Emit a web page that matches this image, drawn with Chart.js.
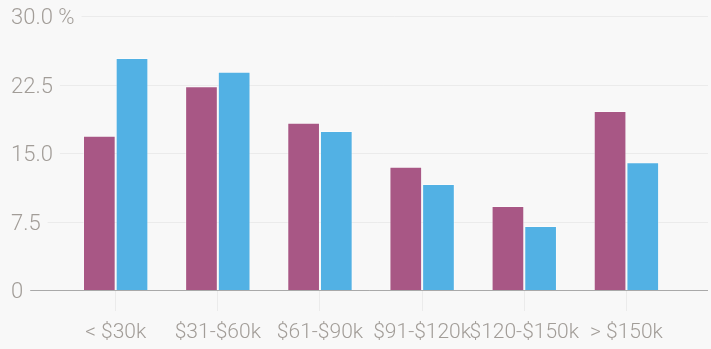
<!DOCTYPE html>
<html>
<head>
<meta charset="utf-8">
<script src="https://cdn.jsdelivr.net/npm/chart.js@4"></script>
<style>
    html, body { margin: 0; padding: 0; background: #f8f8f8; }
    #wrap { position: relative; width: 711px; height: 349px; }
</style>
</head>
<body>
<div id="wrap"><canvas id="incomeChart"></canvas></div>
<script>
const incomeBrackets = ['< $30k', '$31-$60k', '$61-$90k', '$91-$120k', '$120-$150k', '> $150k'];
const groupA = [16.9, 22.3, 18.3, 13.5, 9.2, 19.6];
const groupB = [25.4, 23.9, 17.4, 11.6, 7.0, 14.0];
const yTickValues = [0, 7.5, 15, 22.5, 30];
const yTickLabels = ['0', '7.5', '15.0', '22.5', '30.0 %'];

const labelColor = '#a29d98';
const fontFamily = 'Roboto, "Noto Sans", sans-serif';
const yFont = { family: fontFamily, size: 22, weight: 300 };
const xFont = { family: fontFamily, size: 21, weight: 300 };
const labelLeft = 11;
const lineRight = 708;

// y labels sit at the far left; each rule starts just after its label
const gridPlugin = {
    id: 'labelGrid',
    beforeDatasetsDraw(chart) {
        const ctx = chart.ctx;
        const y = chart.scales.y;
        ctx.save();
        ctx.font = `${yFont.weight} ${yFont.size}px ${yFont.family}`;
        ctx.fillStyle = labelColor;
        ctx.textAlign = 'left';
        ctx.textBaseline = 'alphabetic';
        ctx.strokeStyle = '#ebebeb';
        ctx.lineWidth = 1;
        y.ticks.forEach((t, i) => {
            const label = yTickLabels[yTickValues.indexOf(t.value)];
            const py = Math.round(y.getPixelForValue(t.value)) + 0.5;
            ctx.fillText(label, labelLeft, py + yFont.size * 0.355);
            if (t.value === 0) return;
            const w = ctx.measureText(label).width;
            ctx.beginPath();
            ctx.moveTo(labelLeft + w + 7, py);
            ctx.lineTo(lineRight, py);
            ctx.stroke();
        });
        ctx.restore();
    },
    afterDatasetsDraw(chart) {
        const ctx = chart.ctx;
        const y = chart.scales.y;
        ctx.save();
        ctx.font = `${yFont.weight} ${yFont.size}px ${yFont.family}`;
        const w = ctx.measureText(yTickLabels[0]).width;
        const py = Math.round(y.getPixelForValue(0)) + 0.5;
        ctx.strokeStyle = '#a9a9a9';
        ctx.lineWidth = 1;
        ctx.beginPath();
        ctx.moveTo(labelLeft + w + 7, py);
        ctx.lineTo(lineRight, py);
        ctx.stroke();
        ctx.restore();
    }
};

new Chart(document.getElementById('incomeChart'), {
    type: 'bar',
    data: {
        labels: incomeBrackets,
        datasets: [{
            label: 'Group A',
            data: groupA,
            backgroundColor: '#a85785',
            borderColor: 'rgba(255,255,255,0.4)',
            borderWidth: 1
        }, {
            label: 'Group B',
            data: groupB,
            backgroundColor: '#52b1e4',
            borderColor: 'rgba(255,255,255,0.4)',
            borderWidth: 1
        }]
    },
    options: {
        responsive: true,
        maintainAspectRatio: false,
        animation: false,
        devicePixelRatio: 1,
        categoryPercentage: 0.64,
        barPercentage: 1.0,
        layout: { padding: { left: labelLeft, right: 33.5, top: 16, bottom: 0 } },
        plugins: {
            legend: { display: false },
            tooltip: { enabled: false }
        },
        scales: {
            x: {
                offset: true,
                grid: {
                    offset: false,
                    drawOnChartArea: false,
                    tickLength: 21,
                    color: '#ebebeb'
                },
                border: { display: false },
                ticks: {
                    color: labelColor,
                    font: xFont,
                    padding: 9,
                    maxRotation: 0,
                    autoSkip: false
                },
                afterFit(scale) { scale.height = 59; }
            },
            y: {
                min: 0,
                max: 30,
                afterBuildTicks(scale) {
                    scale.ticks = yTickValues.map(v => ({ value: v }));
                },
                grid: { display: false },
                border: { display: false },
                ticks: { display: false },
                afterFit(scale) { scale.width = 53.6; }
            }
        }
    },
    plugins: [gridPlugin]
});
</script>
</body>
</html>
